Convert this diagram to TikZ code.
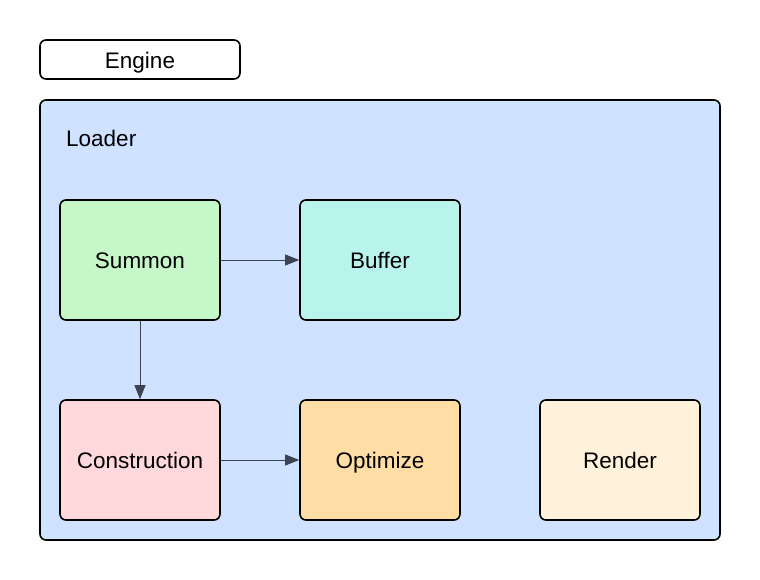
\documentclass[tikz,border=0pt]{standalone}
\usepackage{fontspec}
\setmainfont{Liberation Sans}
\usetikzlibrary{arrows.meta}
\definecolor{contfill}{HTML}{CFE2FF}
\definecolor{greenfill}{HTML}{C6F7C8}
\definecolor{tealfill}{HTML}{B9F4EC}
\definecolor{pinkfill}{HTML}{FFD8DB}
\definecolor{orangefill}{HTML}{FEDEA5}
\definecolor{creamfill}{HTML}{FFF2DA}
\definecolor{arrowcol}{HTML}{3D4451}
\begin{document}
\begin{tikzpicture}[x=1pt,y=-1pt,
  lbl/.style={font=\fontsize{22.5}{26}\selectfont,text height=16pt,text depth=0pt},
  box/.style={lbl,draw=black,line width=1.6pt,rounded corners=6pt,minimum width=160pt,minimum height=120pt,inner sep=0pt},
  conn/.style={draw=arrowcol,line width=0.9pt,-{Triangle[length=14pt,width=11pt]}}]
\useasboundingbox (0,0) rectangle (760,580);
\node[draw=black,line width=1.6pt,rounded corners=6pt,minimum width=200pt,minimum height=39pt,inner sep=0pt,fill=white] (engine) at (140,59.5) {};
\node[lbl,inner sep=0pt] (enginelabel) at (140,60.5) {Engine};
\node[draw=black,line width=1.6pt,rounded corners=6pt,minimum width=680pt,minimum height=440pt,inner sep=0pt,fill=contfill] (loader) at (380,320) {};
\node[lbl,anchor=west,inner sep=0pt] (loaderlabel) at (66,139) {Loader};
\node[box,fill=greenfill] (summon) at (140,260) {Summon};
\node[box,fill=tealfill] (buffer) at (380,260) {Buffer};
\node[box,fill=pinkfill] (construction) at (140,460) {Construction};
\node[box,fill=orangefill] (optimize) at (380,460) {Optimize};
\node[box,fill=creamfill] (render) at (620,460) {Render};
\draw[conn] (summon.east) -- (buffer.west);
\draw[conn] (summon.south) -- (construction.north);
\draw[conn] (construction.east) -- (optimize.west);
\end{tikzpicture}
\end{document}
